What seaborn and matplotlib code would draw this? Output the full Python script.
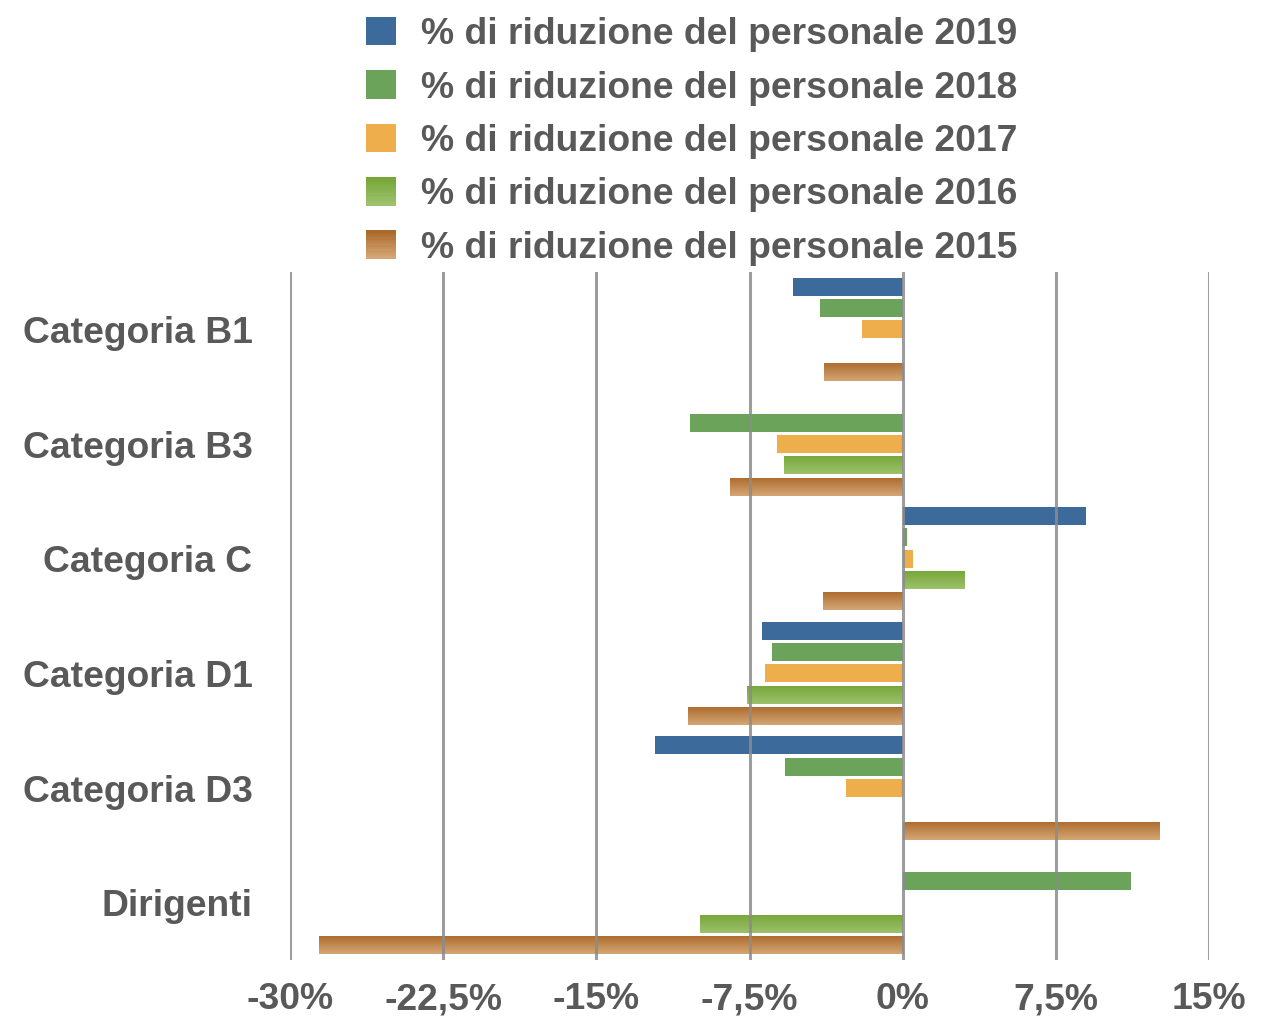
import numpy as np
import pandas as pd
import matplotlib
matplotlib.use("Agg")
import matplotlib.pyplot as plt
import seaborn as sns
from matplotlib.patches import Rectangle
from matplotlib.legend_handler import HandlerBase
from matplotlib.colors import to_rgb

# ---------------- data ----------------
categories = ["Categoria B1", "Categoria B3", "Categoria C", "Categoria D1", "Categoria D3", "Dirigenti"]
series = ["% di riduzione del personale 2019", "% di riduzione del personale 2018",
          "% di riduzione del personale 2017", "% di riduzione del personale 2016",
          "% di riduzione del personale 2015"]
v2019 = [-5.35, np.nan, 9.0, -6.88, -12.14, np.nan]
v2018 = [-4.07, -10.4, 0.21, -6.42, -5.75, 11.2]
v2017 = [-2.0, -6.13, 0.5, -6.73, -2.79, np.nan]
v2016 = [np.nan, -5.79, 3.01, -7.62, np.nan, -9.9]
v2015 = [-3.87, -8.44, -3.88, -10.52, 12.55, -28.6]
xticks = [-30, -22.5, -15, -7.5, 0, 7.5, 15]
xtick_labels = ["-30%", "-22,5%", "-15%", "-7,5%", "0%", "7,5%", "15%"]

# ---------------- style ----------------
solid = {series[0]: "#3c6a9b", series[1]: "#6ba35a", series[2]: "#edae4b"}
grad = {series[3]: ("#76a638", "#9dc16c"), series[4]: ("#ab6a2b", "#d4a675")}
palette = dict(solid)
for k, (a, b) in grad.items():
    palette[k] = tuple((np.array(to_rgb(a)) + np.array(to_rgb(b))) / 2)

TXT = "#595959"
FS = 26.8

sns.set_style("white")
plt.rcParams["font.family"] = ["Liberation Sans", "DejaVu Sans"]
plt.rcParams["font.weight"] = "bold"

rows = []
for s, vals in zip(series, [v2019, v2018, v2017, v2016, v2015]):
    for c, v in zip(categories, vals):
        rows.append({"cat": c, "series": s, "val": v})
df = pd.DataFrame(rows).dropna()

fig = plt.figure(figsize=(12.78, 10.17), dpi=100)
ax = fig.add_axes([290 / 1278, 1 - 960 / 1017, (1209 - 290) / 1278, (960 - 272) / 1017])

sns.barplot(data=df, y="cat", x="val", hue="series", order=categories, hue_order=series,
            palette=palette, saturation=1, orient="h", width=0.93, gap=0.15, ax=ax,
            edgecolor="none", linewidth=0, legend=False, errorbar=None)

# gradient fills for the 2016 / 2015 series
for cont, s in zip(ax.containers, series):
    if s in grad:
        top, bot = np.array(to_rgb(grad[s][0])), np.array(to_rgb(grad[s][1]))
        t = np.linspace(0, 1, 64)[:, None]
        img = (top * (1 - t) + bot * t)[:, None, :]
        for p in cont.patches:
            x0, y0 = p.get_x(), p.get_y()
            w, h = p.get_width(), p.get_height()
            if not np.isfinite(w) or w == 0:
                continue
            im = ax.imshow(img, extent=[x0, x0 + w, y0 + h, y0], aspect="auto",
                           origin="upper", zorder=p.get_zorder(), interpolation="bilinear")
            im.set_clip_path(p)
            p.set_facecolor("none")

ax.set_xlim(-30, 15)
ax.set_ylim(5.5, -0.5)
ax.set_xticks(xticks)
ax.set_xticklabels(xtick_labels)
ax.set_xlabel("")
ax.set_ylabel("")
for sp in ax.spines.values():
    sp.set_visible(False)
for xv in xticks:
    ax.axvline(xv, color="#8c8c8c", lw=2.2, alpha=0.85, zorder=5)
ax.tick_params(axis="both", length=0, labelsize=FS, labelcolor=TXT)
ax.tick_params(axis="y", pad=27)
ax.tick_params(axis="x", pad=16)
for lab in ax.get_xticklabels() + ax.get_yticklabels():
    lab.set_fontweight("bold")


class GradHandler(HandlerBase):
    def __init__(self, c1, c2):
        super().__init__()
        self.c1, self.c2 = np.array(to_rgb(c1)), np.array(to_rgb(c2))

    def create_artists(self, legend, orig_handle, xdescent, ydescent, width, height, fontsize, trans):
        n = 12
        arts = []
        for i in range(n):
            t = i / (n - 1)
            col = self.c1 * (1 - t) + self.c2 * t
            yy = -ydescent + height * (1 - (i + 1) / n)
            r = Rectangle((-xdescent, yy), width, height / n + 0.3, facecolor=col,
                          edgecolor="none", transform=trans)
            arts.append(r)
        return arts


handles = [Rectangle((0, 0), 1, 1, facecolor=palette[s], edgecolor="none") for s in series]
hmap = {handles[3]: GradHandler(*grad[series[3]]), handles[4]: GradHandler(*grad[series[4]])}
leg = fig.legend(handles, series, loc="upper left", bbox_to_anchor=(366 / 1278, 1 - 17 / 1017),
                 frameon=False, fontsize=FS, handlelength=0.8, handleheight=0.8,
                 handletextpad=0.68, labelspacing=0.49, borderpad=0, borderaxespad=0,
                 handler_map=hmap)
for t in leg.get_texts():
    t.set_color(TXT)
    t.set_fontweight("bold")

fig.savefig("out.png", dpi=100)
